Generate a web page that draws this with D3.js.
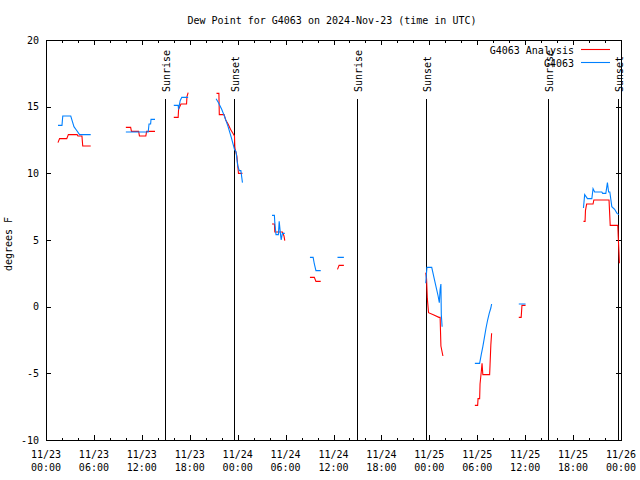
<!DOCTYPE html>
<html><head><meta charset="utf-8">
<script src="https://cdn.jsdelivr.net/npm/d3@7"></script>
<style>
html,body{margin:0;padding:0;background:#fff;}
svg{display:block;}
text{font-family:"DejaVu Sans Mono","Liberation Mono",monospace;font-size:10px;fill:#000;}
</style></head>
<body>
<script>
// ---- data (time in hours since 2024-11-23 00:00 UTC) ----
const title = "Dew Point for G4063 on 2024-Nov-23 (time in UTC)";
const yLabel = "degrees F";
const xTickHours = [0, 6, 12, 18, 24, 30, 36, 42, 48, 54, 60, 66, 72];
const xTickDates = ["11/23","11/23","11/23","11/23","11/24","11/24","11/24","11/24","11/25","11/25","11/25","11/25","11/26"];
const xTickTimes = ["00:00","06:00","12:00","18:00","00:00","06:00","12:00","18:00","00:00","06:00","12:00","18:00","00:00"];
const yTicks = [-10, -5, 0, 5, 10, 15, 20];
const sunEventHours = [14.94, 23.58, 38.94, 47.55, 62.9, 71.59];
const sunEventNames = ["Sunrise", "Sunset", "Sunrise", "Sunset", "Sunrise", "Sunset"];
const seriesNames = ["G4063 Analysis", "G4063"];

// G4063 Analysis (red); null separates gaps
const analysisData = [
  [1.5,12.3],[1.7,12.6],[2.6,12.6],[2.8,12.9],[3.9,12.9],[4.0,12.8],[4.5,12.8],[4.6,12.05],[5.6,12.05], null,
  [10.0,13.45],[10.6,13.45],[10.7,13.15],[11.6,13.15],[11.7,12.8],[12.5,12.8],[12.6,13.15],[13.65,13.15], null,
  [16.0,14.2],[16.55,14.2],[16.6,14.8],[16.9,15.2],[17.6,15.2],[17.65,15.75],[17.8,16.05], null,
  [21.35,16.0],[21.65,16.0],[21.7,14.4],[22.3,14.4],[22.5,14.0],[22.8,13.7],[23.1,13.3],[23.4,13.0],[23.6,12.8],[23.65,11.9],[23.9,11.3],[24.1,10.0],[24.6,10.0], null,
  [28.3,6.2],[28.6,6.2],[28.65,5.6],[29.6,5.6],[29.8,5.3],[29.9,4.95], null,
  [33.05,2.2],[33.6,2.2],[33.8,1.9],[34.4,1.9], null,
  [36.5,2.8],[36.7,3.1],[37.3,3.1], null,
  [47.55,2.55],[47.65,2.1],[47.75,0.6],[47.9,-0.45],[48.5,-0.6],[49.2,-0.8],[49.35,-0.8],[49.45,-2.95],[49.7,-3.7], null,
  [53.7,-7.4],[54.05,-7.4],[54.1,-6.9],[54.3,-6.9],[54.35,-5.8],[54.5,-4.9],[54.6,-4.25],[54.7,-5.1],[55.55,-5.1],[55.6,-4.4],[55.7,-2.9],[55.8,-2.0], null,
  [59.2,-0.8],[59.5,-0.8],[59.6,0.1],[60.05,0.1], null,
  [67.3,6.4],[67.5,6.4],[67.55,7.2],[67.7,7.7],[68.5,7.7],[68.6,8.0],[70.5,8.0],[70.65,6.1],[71.6,6.1],[71.65,5.3],[71.75,4.0],[71.8,3.25]
];
// G4063 observations (blue)
const stationData = [
  [1.5,13.6],[2.0,13.6],[2.1,14.3],[3.1,14.3],[3.3,13.9],[3.5,13.5],[3.8,13.25],[4.2,12.9],[5.6,12.9], null,
  [10.0,13.1],[12.8,13.1],[12.9,13.7],[13.1,13.7],[13.15,14.05],[13.65,14.05], null,
  [16.0,15.1],[16.55,15.1],[16.6,14.8],[16.8,15.45],[17.0,15.7],[17.8,15.7], null,
  [21.3,15.6],[21.6,15.3],[22.0,14.8],[22.4,14.2],[22.8,13.5],[23.2,12.7],[23.6,11.8],[23.8,11.6],[24.0,10.6],[24.2,10.2],[24.4,10.2],[24.6,9.3], null,
  [28.3,6.85],[28.6,6.85],[28.65,6.3],[28.8,5.4],[29.1,5.4],[29.2,6.4],[29.35,5.5],[29.45,5.0],[29.6,5.5],[29.9,5.5], null,
  [33.05,3.7],[33.45,3.7],[33.6,3.2],[33.8,2.7],[34.4,2.7], null,
  [36.5,3.7],[37.3,3.7], null,
  [47.55,1.75],[47.7,2.95],[48.3,2.95],[48.5,2.4],[48.8,1.6],[49.1,0.8],[49.25,0.3],[49.35,1.3],[49.45,1.7],[49.5,-0.6],[49.6,-1.5], null,
  [53.7,-4.25],[54.3,-4.25],[54.5,-3.6],[54.7,-3.0],[54.9,-2.3],[55.1,-1.6],[55.3,-1.0],[55.5,-0.5],[55.7,-0.1],[55.8,0.2], null,
  [59.2,0.2],[60.05,0.2], null,
  [67.3,7.4],[67.45,8.4],[67.8,8.1],[68.35,8.1],[68.5,8.85],[68.7,8.6],[69.6,8.6],[69.7,8.5],[70.1,8.5],[70.3,9.3],[70.45,8.6],[70.6,8.6],[70.85,7.5],[71.2,7.3],[71.5,7.0],[71.75,6.9]
];
const seriesColors = ["#ff0000", "#0080ff"];

// ---- layout ----
const W = 640, H = 480;
const L = 46, R = 621, T = 40, B = 440;

const svg = d3.select("body").append("svg").attr("width", W).attr("height", H);
const x = d3.scaleLinear().domain([0, 72]).range([L, R]);
const y = d3.scaleLinear().domain([-10, 20]).range([B, T]);

// title
svg.append("text").attr("x", 332).attr("y", 24).attr("text-anchor", "middle").text(title);
// y label
svg.append("text").attr("transform", "translate(12,244) rotate(-90)").attr("text-anchor", "middle").text(yLabel);

// sun event lines
const sun = svg.append("g");
sunEventHours.forEach((h, i) => {
  const px = Math.round(x(h)) + 0.5;
  sun.append("line").attr("x1", px).attr("x2", px).attr("y1", 99).attr("y2", B)
    .attr("stroke", "#000").attr("stroke-width", 1).attr("shape-rendering", "crispEdges");
  sun.append("text").attr("transform", `translate(${px + 4},92) rotate(-90)`)
    .attr("text-anchor", "start").text(sunEventNames[i]);
});

// axes ticks (inward, mirrored)
const minorHours = d3.range(0, 73, 2).filter(h => h % 6 !== 0);
function tickAxis(axis, transform) {
  const g = svg.append("g").attr("transform", transform).call(axis);
  g.select(".domain").remove();
  g.selectAll("text").remove();
  g.selectAll("line").attr("stroke", "#000").attr("shape-rendering", "crispEdges");
  return g;
}
tickAxis(d3.axisBottom(x).tickValues(xTickHours).tickSize(-5), `translate(0,${B})`);
tickAxis(d3.axisBottom(x).tickValues(minorHours).tickSize(-2.5), `translate(0,${B})`);
tickAxis(d3.axisTop(x).tickValues(xTickHours).tickSize(-5), `translate(0,${T})`);
tickAxis(d3.axisTop(x).tickValues(minorHours).tickSize(-2.5), `translate(0,${T})`);
tickAxis(d3.axisLeft(y).tickValues(yTicks).tickSize(-5), `translate(${L},0)`);
tickAxis(d3.axisRight(y).tickValues(yTicks).tickSize(-5), `translate(${R},0)`);

// tick labels
const xl = svg.append("g");
xTickHours.forEach((h, i) => {
  const t = xl.append("text").attr("x", x(h)).attr("y", 458).attr("text-anchor", "middle");
  t.append("tspan").attr("x", x(h)).attr("y", 458).text(xTickDates[i]);
  t.append("tspan").attr("x", x(h)).attr("y", 471).text(xTickTimes[i]);
});
svg.append("g").selectAll("text").data(yTicks).join("text")
  .attr("x", 39).attr("y", d => y(d) + 3.5).attr("text-anchor", "end").text(d => d);

// border
svg.append("rect").attr("x", L + 0.5).attr("y", T + 0.5).attr("width", R - L).attr("height", B - T)
  .attr("fill", "none").attr("stroke", "#000").attr("shape-rendering", "crispEdges");

// series
const line = d3.line().defined(d => d !== null).x(d => x(d[0])).y(d => y(d[1]));
[analysisData, stationData].forEach((data, i) => {
  svg.append("path").datum(data).attr("d", line)
    .attr("fill", "none").attr("stroke", seriesColors[i]).attr("stroke-width", 1.1);
});

// legend
const legendY = [49.5, 62.5];
seriesNames.forEach((n, i) => {
  svg.append("text").attr("x", 574).attr("y", legendY[i] + 4).attr("text-anchor", "end").text(n);
  svg.append("line").attr("x1", 581).attr("x2", 610).attr("y1", legendY[i]).attr("y2", legendY[i])
    .attr("stroke", seriesColors[i]).attr("stroke-width", 1.1);
});
</script>
</body></html>
